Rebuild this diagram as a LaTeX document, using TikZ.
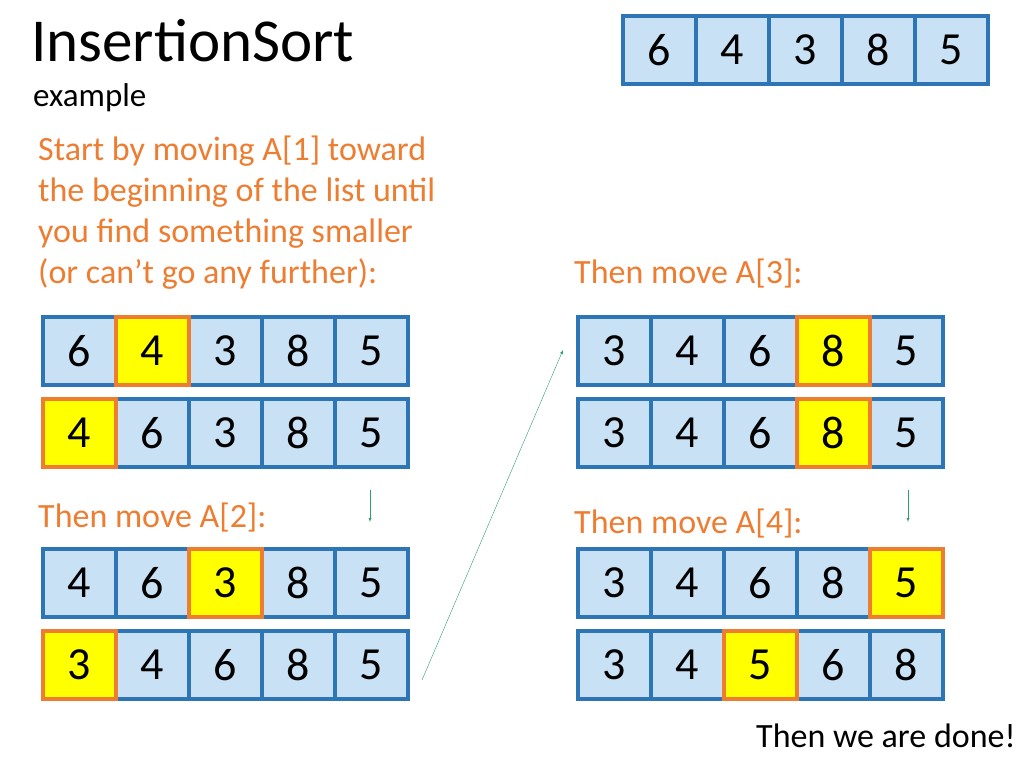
\documentclass[tikz,border=0pt]{standalone}
\usepackage{fontspec}
\setmainfont{Carlito}
\definecolor{cb}{HTML}{2E75B6}
\definecolor{cf}{HTML}{C9E1F5}
\definecolor{og}{HTML}{ED7D31}
\definecolor{hl}{HTML}{FFFF00}
\definecolor{gr}{HTML}{2E9E6E}
\tikzset{cell/.style={draw=cb,fill=cf,line width=3.5pt,minimum width=73pt,minimum height=68pt,inner sep=0pt,font=\fontsize{46}{46}\selectfont},
hcell/.style={cell,draw=og,fill=hl},
otext/.style={text=og,font=\fontsize{34}{41}\selectfont,align=left,anchor=base west,inner sep=0pt},
garrow/.style={draw=gr,-latex}}
\newcommand{\arow}[5]{% name, x, y, list, highlight index
\foreach \v [count=\i] in {#4}{\ifnum\i=#5\relax\else
\node[cell] (#1\i) at ({#2+36.5+73*(\i-1)},{#3}) {\v};\fi}
\foreach \v [count=\i] in {#4}{\ifnum\i=#5\relax
\node[hcell] (#1\i) at ({#2+36.5+73*(\i-1)},{#3}) {\v};\fi}}
\begin{document}
\begin{tikzpicture}[x=1pt,y=-1pt]
\useasboundingbox (0,0) rectangle (1024,768);
\node[anchor=base west,inner sep=0pt,font=\fontsize{61}{61}\selectfont] (title) at (31,62) {InsertionSort};
\node[anchor=base west,inner sep=0pt,font=\fontsize{33}{33}\selectfont] (sub) at (33,106) {example};
\node[otext] (t1) at (38,283) {Start by moving A[1] toward\\the beginning of the list until\\you find something smaller\\(or can’t go any further):};
\node[otext] (t2) at (574,283) {Then move A[3]:};
\node[otext] (t3) at (38,527) {Then move A[2]:};
\node[otext] (t4) at (574,533) {Then move A[4]:};
\node[anchor=base west,inner sep=0pt,font=\fontsize{34}{34}\selectfont] (done) at (756,747) {Then we are done!};
\arow{a}{623}{50}{6,4,3,8,5}{0}
\arow{b}{43}{351}{6,4,3,8,5}{2}
\arow{c}{43}{433}{4,6,3,8,5}{1}
\arow{d}{43}{583}{4,6,3,8,5}{3}
\arow{e}{43}{665}{3,4,6,8,5}{1}
\arow{f}{578}{351}{3,4,6,8,5}{4}
\arow{g}{578}{433}{3,4,6,8,5}{4}
\arow{h}{578}{583}{3,4,6,8,5}{5}
\arow{k}{578}{665}{3,4,5,6,8}{3}
\coordinate (p1) at (370,490); \coordinate (p2) at (370,522);
\draw[garrow] (p1) -- (p2);
\coordinate (q1) at (908,490); \coordinate (q2) at (908,522);
\draw[garrow] (q1) -- (q2);
\coordinate (r1) at (422,680); \coordinate (r2) at (563,350);
\draw[garrow] (r1) -- (r2);
\end{tikzpicture}
\end{document}
